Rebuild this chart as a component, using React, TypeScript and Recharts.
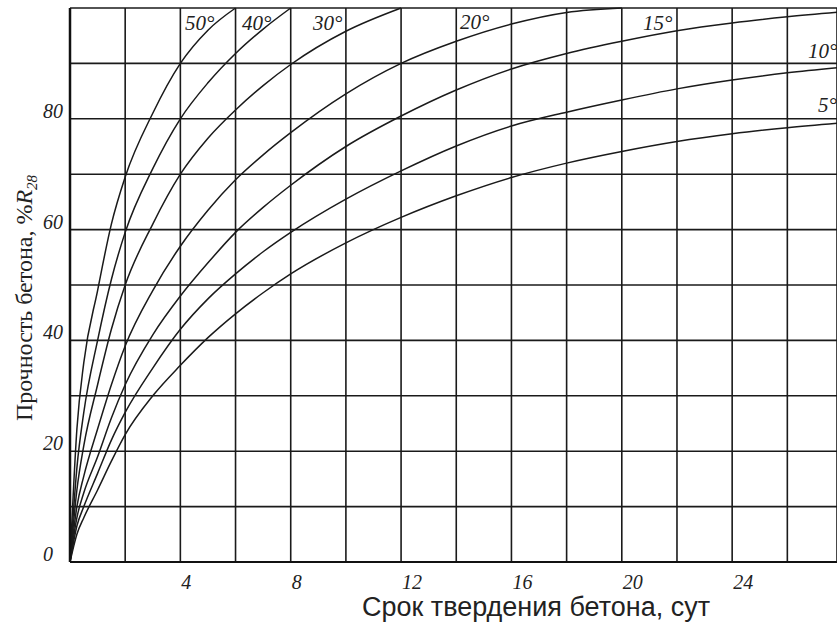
import React from 'react';
import { LineChart, Line, XAxis, YAxis, CartesianGrid } from 'recharts';

// hardening time, days
const days = [0, 0.25, 0.5, 1, 1.5, 2, 3, 4, 5, 6, 7, 8, 10, 12, 14, 16, 18, 20, 22, 24, 26, 28];

// strength, % of R28, per curing temperature
const t50 = [0, 24, 36, 49, 61, 69.5, 81, 90, 96, 100, null, null, null, null, null, null, null, null, null, null, null, null];
const t40 = [0, 17, 27, 40, 51, 59.5, 71, 80, 86.5, 91.8, 96.2, 100, null, null, null, null, null, null, null, null, null, null];
const t30 = [0, 13, 21, 32, 42, 50, 61, 70, 76.5, 81.6, 86, 89.8, 95.8, 100, null, null, null, null, null, null, null, null];
const t20 = [0, 10, 15.5, 24, 32, 39, 49, 57, 63.5, 69, 73.5, 77.5, 84.5, 90, 94, 97.1, 99.2, 100, null, null, null, null];
const t15 = [0, 8, 12.5, 19, 26, 32, 41, 48, 54, 59.5, 64, 68, 75, 80.5, 85.2, 89, 91.8, 94, 95.9, 97.3, 98.4, 99.3];
const t10 = [0, 6.5, 10, 16, 22, 27, 35, 42, 47.5, 52, 56, 59.5, 65.5, 70.6, 75.1, 78.7, 81.2, 83.4, 85.4, 87, 88.3, 89.3];
const t5 = [0, 5, 8, 13, 18.2, 23, 30, 35.5, 40.5, 44.8, 48.6, 52, 57.6, 62.2, 66.1, 69.4, 72, 74.1, 75.9, 77.3, 78.4, 79.3];

const seriesKeys = ['t50', 't40', 't30', 't20', 't15', 't10', 't5'];
const seriesValues = [t50, t40, t30, t20, t15, t10, t5];

const xTicks = [0, 2, 4, 6, 8, 10, 12, 14, 16, 18, 20, 22, 24, 26];
const yTicks = [0, 10, 20, 30, 40, 50, 60, 70, 80, 90, 100];

const data = days.map((d, i) => {
    const row: any = { day: d };
    seriesKeys.forEach((k, j) => {
        row[k] = seriesValues[j][i];
    });
    return row;
});

const serif = '"Liberation Serif", "DejaVu Serif", serif';
const sans = '"Liberation Sans", Arial, sans-serif';

const XTick = (props: any) => {
    const { x, y, payload } = props;
    const v = payload.value;
    if (v === 0 || v % 4 !== 0) return <g />;
    return (
        <text x={x + 1} y={y + 25} fontFamily={serif} fontStyle="italic" fontSize={20} fill="#222">
            {v}
        </text>
    );
};

const YTick = (props: any) => {
    const { y, payload } = props;
    const v = payload.value;
    if (v === 100 || v % 20 !== 0) return <g />;
    return (
        <text x={43} y={y - 1} fontFamily={serif} fontStyle="italic" fontSize={20} fill="#222">
            {v}
        </text>
    );
};

const curveLabels = [
    { text: '50°', x: 185, y: 30 },
    { text: '40°', x: 242, y: 30 },
    { text: '30°', x: 313, y: 30 },
    { text: '20°', x: 460, y: 29 },
    { text: '15°', x: 643, y: 30 },
    { text: '10°', x: 808, y: 58 },
    { text: '5°', x: 818, y: 112 },
];

export default function App() {
    return (
        <div style={{ position: 'absolute', left: 0, top: 0, width: 837, height: 641, background: '#fff' }}>
            <LineChart width={837} height={641} data={data} margin={{ top: 8, right: 0, bottom: 0, left: 0 }}>
                <CartesianGrid stroke="#1a1a1a" strokeWidth={1.6} strokeOpacity={1} />
                <XAxis
                    dataKey="day"
                    type="number"
                    domain={[0, 27.8]}
                    allowDataOverflow
                    ticks={xTicks}
                    interval={0}
                    height={79}
                    tickLine={false}
                    tickSize={0}
                    axisLine={{ stroke: '#111', strokeWidth: 2 }}
                    tick={<XTick />}
                />
                <YAxis
                    type="number"
                    domain={[0, 100]}
                    ticks={yTicks}
                    interval={0}
                    width={70}
                    tickLine={false}
                    tickSize={0}
                    axisLine={{ stroke: '#111', strokeWidth: 2.5 }}
                    tick={<YTick />}
                />
                {seriesKeys.map((k) => (
                    <Line
                        key={k}
                        type="monotone"
                        dataKey={k}
                        stroke="#1a1a1a"
                        strokeWidth={1.5}
                        dot={false}
                        activeDot={false}
                        isAnimationActive={false}
                    />
                ))}
                {curveLabels.map((l) => (
                    <text key={l.text} x={l.x} y={l.y} fontFamily={serif} fontStyle="italic" fontSize={21} fill="#222">
                        {l.text}
                    </text>
                ))}
                <text
                    transform="translate(32,298) rotate(-90)"
                    textAnchor="middle"
                    fontFamily={serif}
                    fontSize={24}
                    fill="#222"
                >
                    Прочность бетона, %<tspan fontStyle="italic">R</tspan>
                    <tspan fontSize={15} dy={5} fontStyle="italic">28</tspan>
                </text>
                <text x={536} y={616} textAnchor="middle" fontFamily={sans} fontSize={27} fill="#222" textLength={348} lengthAdjust="spacingAndGlyphs">
                    Срок твердения бетона, сут
                </text>
            </LineChart>
        </div>
    );
}
